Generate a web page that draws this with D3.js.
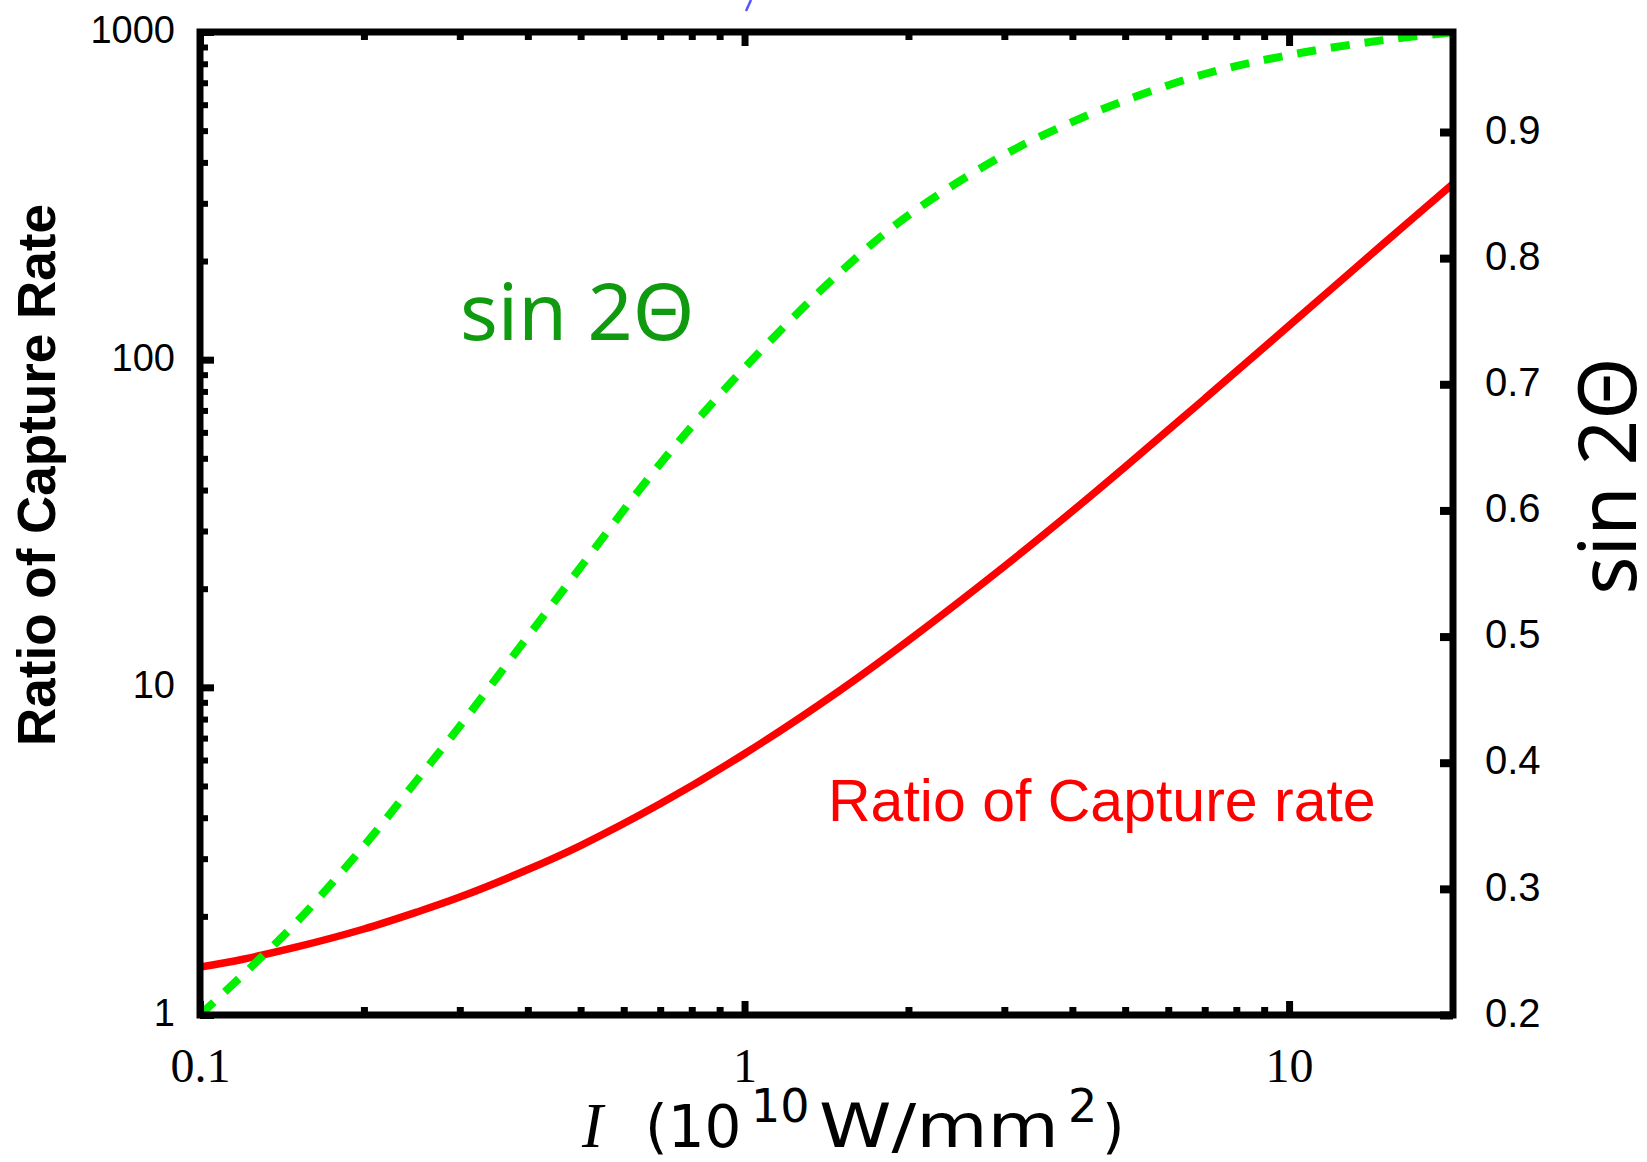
<!DOCTYPE html>
<html><head><meta charset="utf-8">
<script src="https://cdn.jsdelivr.net/npm/d3@7"></script>
<style>body{margin:0;background:#fff}</style>
</head><body><svg id="c" width="1647" height="1162"></svg>
<script>
// ---- data ----
const intensity    = [0.1, 0.12, 0.15, 0.2, 0.25, 0.3, 0.4, 0.5, 0.7, 1, 1.5, 2, 3, 4, 5, 7, 10, 15, 20];
const captureRatio = [1.40, 1.48, 1.61, 1.83, 2.06, 2.29, 2.78, 3.29, 4.41, 6.27, 9.81, 13.9, 23.4, 34.5, 47.1, 76.0, 127, 228, 344];
const sin2theta    = [0.200, 0.232, 0.273, 0.334, 0.386, 0.429, 0.500, 0.555, 0.637, 0.713, 0.789, 0.834, 0.882, 0.908, 0.925, 0.946, 0.961, 0.973, 0.979];

const leftTicks = [1, 10, 100, 1000];
const leftTickLabels = ["1", "10", "100", "1000"];
const rightTicks = [0.2, 0.3, 0.4, 0.5, 0.6, 0.7, 0.8, 0.9];
const rightTickLabels = ["0.2", "0.3", "0.4", "0.5", "0.6", "0.7", "0.8", "0.9"];
const bottomTicks = [0.1, 1, 10];
const bottomTickLabels = ["0.1", "1", "10"];
const xMinorTicks = [0.2,0.3,0.4,0.5,0.6,0.7,0.8,0.9,2,3,4,5,6,7,8,9];
const yMinorTicks = [2,3,4,5,6,7,8,9,20,30,40,50,60,70,80,90,200,300,400,500,600,700,800,900];

const xDomain = [0.1, 20];
const yLeftDomain = [1, 1000];
const yRightRef = [0.2, 0.9];

// ---- layout ----
const L = 200, R = 1453, T = 32, B = 1015;
const svg = d3.select("#c");
svg.append("rect").attr("width",1647).attr("height",1162).attr("fill","#fff");

const x  = d3.scaleLog().domain(xDomain).range([L, R]);
const yL = d3.scaleLog().domain(yLeftDomain).range([B, T]);
const yR = d3.scaleLinear().domain(yRightRef).range([B, 132]);

svg.append("clipPath").attr("id","clip").append("rect")
  .attr("x",L).attr("y",T).attr("width",R-L).attr("height",B-T);

const g = svg.append("g").attr("clip-path","url(#clip)");

const redLine = d3.line().x((d,i)=>x(intensity[i])).y(d=>yL(d)).curve(d3.curveCatmullRom.alpha(0.5));
const greenLine = d3.line().x((d,i)=>x(intensity[i])).y(d=>yR(d)).curve(d3.curveCatmullRom.alpha(0.5));

g.append("path").attr("d", redLine(captureRatio))
  .attr("fill","none").attr("stroke","#ff0000").attr("stroke-width",7.5);
g.append("path").attr("d", greenLine(sin2theta))
  .attr("fill","none").attr("stroke","#00f000").attr("stroke-width",8)
  .attr("stroke-dasharray","19,15");

// ---- axes ----
function styleAxis(sel, w){
  sel.select(".domain").remove();
  sel.selectAll(".tick line").attr("stroke","#000").attr("stroke-width",w);
}
const fmt = (vals, labels) => v => labels[vals.indexOf(v)];

// bottom
svg.append("g").attr("transform",`translate(0,${B})`)
  .call(d3.axisBottom(x).tickValues(bottomTicks).tickSize(-14).tickPadding(33).tickFormat(fmt(bottomTicks,bottomTickLabels)))
  .call(s=>styleAxis(s,7))
  .selectAll("text").attr("font-family","'Liberation Serif', 'Times New Roman', serif").attr("font-size",48).attr("fill","#000");
svg.append("g").attr("transform",`translate(0,${B})`)
  .call(d3.axisBottom(x).tickValues(xMinorTicks).tickSize(-8).tickFormat(""))
  .call(s=>styleAxis(s,7));
// top
svg.append("g").attr("transform",`translate(0,${T})`)
  .call(d3.axisTop(x).tickValues(bottomTicks).tickSize(-14).tickFormat(""))
  .call(s=>styleAxis(s,7));
svg.append("g").attr("transform",`translate(0,${T})`)
  .call(d3.axisTop(x).tickValues(xMinorTicks).tickSize(-8).tickFormat(""))
  .call(s=>styleAxis(s,7));
// left
svg.append("g").attr("transform",`translate(${L},0)`)
  .call(d3.axisLeft(yL).tickValues(leftTicks).tickSize(-14).tickPadding(25).tickFormat(fmt(leftTicks,leftTickLabels)))
  .call(s=>styleAxis(s,7))
  .selectAll("text").attr("font-family","'Liberation Sans', Arial, sans-serif").attr("font-size",38).attr("fill","#000").attr("dy","0.28em");
svg.append("g").attr("transform",`translate(${L},0)`)
  .call(d3.axisLeft(yL).tickValues(yMinorTicks).tickSize(-8).tickFormat(""))
  .call(s=>styleAxis(s,6));
// right
svg.append("g").attr("transform",`translate(${R},0)`)
  .call(d3.axisRight(yR).tickValues(rightTicks).tickSize(-13).tickPadding(32).tickFormat(fmt(rightTicks,rightTickLabels)))
  .call(s=>styleAxis(s,8))
  .selectAll("text").attr("font-family","'Liberation Sans', Arial, sans-serif").attr("font-size",40).attr("fill","#000").attr("dy","0.28em");

// frame
svg.append("rect").attr("x",L).attr("y",T).attr("width",R-L).attr("height",B-T)
  .attr("fill","none").attr("stroke","#000").attr("stroke-width",7);

// ---- titles ----
svg.append("text").attr("transform",`translate(55,475) rotate(-90)`)
  .attr("text-anchor","middle").attr("font-family","'Liberation Sans', Arial, sans-serif")
  .attr("font-weight","bold").attr("font-size",53).attr("fill","#000")
  .text("Ratio of Capture Rate");

svg.append("text").attr("transform",`translate(1636,476) rotate(-90)`)
  .attr("text-anchor","middle").attr("font-family","'Noto Sans', sans-serif")
  .attr("font-size",80).attr("fill","#000")
  .text("sin 2Θ");

const xt = svg.append("text").attr("y",1147)
  .attr("font-family","'DejaVu Sans', Verdana, sans-serif").attr("font-size",58).attr("fill","#000");
xt.append("tspan").attr("x",582).attr("font-family","'Liberation Serif', 'Times New Roman', serif").attr("font-style","italic").attr("font-size",63).text("I");
xt.append("tspan").attr("x",645).text("(10");
xt.append("tspan").attr("x",751).attr("font-size",46).attr("dy",-25).text("10");
xt.append("tspan").attr("x",819).attr("dy",25).attr("font-size",60)
  .attr("textLength",240).attr("lengthAdjust","spacingAndGlyphs").text("W/mm");
xt.append("tspan").attr("x",1068).attr("font-size",46).attr("dy",-25).text("2");
xt.append("tspan").attr("x",1102).attr("dy",25).text(")");

// ---- in-plot labels ----
svg.append("text").attr("x",460).attr("y",340)
  .attr("font-family","'Noto Sans', sans-serif").attr("font-size",79).attr("fill","#109a10")
  .text("sin 2Θ");
svg.append("text").attr("x",828).attr("y",821)
  .attr("font-family","'Liberation Sans', Arial, sans-serif").attr("font-size",59).attr("fill","#ff0000")
  .text("Ratio of Capture rate");

// small blue mark at the top edge (clipped remnant)
svg.append("line").attr("x1",746).attr("y1",11).attr("x2",751).attr("y2",0)
  .attr("stroke","#5555ff").attr("stroke-width",2.5);
</script></body></html>
